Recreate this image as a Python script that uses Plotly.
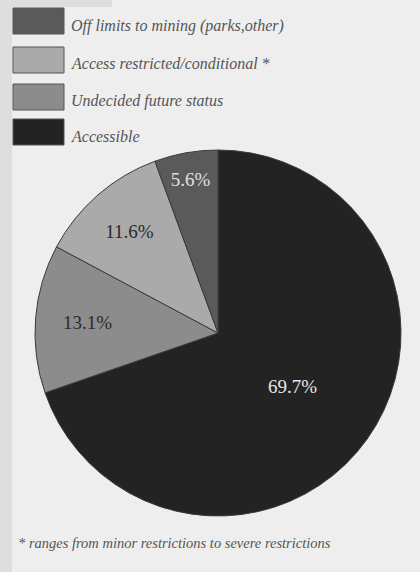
import plotly.graph_objects as go

categories = ["Accessible", "Undecided future status", "Access restricted/conditional *", "Off limits to mining (parks,other)"]
values = [69.7, 13.1, 11.6, 5.6]
labels_text = ["69.7%", "13.1%", "11.6%", "5.6%"]
colors = ["#232323", "#8c8c8c", "#aaaaaa", "#5a5a5a"]
text_colors = ["#e6e6e6", "#2a2a2a", "#2a2a2a", "#e0e0e0"]

legend_order = ["Off limits to mining (parks,other)", "Access restricted/conditional *", "Undecided future status", "Accessible"]
footnote = "* ranges from minor restrictions to severe restrictions"

W, H = 420, 572
SERIF = "Liberation Serif, DejaVu Serif, serif"
fig = go.Figure()
fig.add_trace(go.Pie(
    labels=categories, values=values, text=labels_text,
    textinfo="text", textposition="inside", insidetextorientation="horizontal",
    sort=False, direction="clockwise", rotation=0,
    marker=dict(colors=colors, line=dict(color="#3a3a3a", width=1)),
    textfont=dict(family=SERIF, size=19, color=text_colors),
    domain=dict(x=[35 / W, 401 / W], y=[1 - 516 / H, 1 - 150 / H]),
    showlegend=False, hoverinfo="label+percent",
))

shapes = [dict(type="rect", xref="paper", yref="paper", x0=0, x1=12 / W, y0=0, y1=1,
               fillcolor="#dedede", line=dict(width=0), layer="below"),
          dict(type="rect", xref="paper", yref="paper", x0=0, x1=112 / W, y0=1 - 7 / H, y1=1,
               fillcolor="#dedede", line=dict(width=0), layer="below")]
annotations = []
row_tops = [8, 47, 84, 119]
text_centers = [26, 64, 101, 137]
for i, name in enumerate(legend_order):
    col = colors[categories.index(name)]
    y0 = row_tops[i]
    y1 = y0 + 26
    shapes.append(dict(type="rect", xref="paper", yref="paper",
                       x0=13 / W, x1=64 / W, y0=1 - y1 / H, y1=1 - y0 / H,
                       fillcolor=col, line=dict(color="#555555", width=1)))
    annotations.append(dict(text="<i>" + name + "</i>", xref="paper", yref="paper",
                            x=69 / W, y=1 - text_centers[i] / H, xanchor="left", yanchor="middle",
                            showarrow=False,
                            font=dict(family=SERIF, size=16, color="#555555")))
annotations.append(dict(text="<i>" + footnote + "</i>", xref="paper", yref="paper",
                        x=16 / W, y=1 - 543 / H, xanchor="left", yanchor="middle", showarrow=False,
                        font=dict(family=SERIF, size=14.5, color="#555555")))

fig.update_layout(width=W, height=H, margin=dict(l=0, r=0, t=0, b=0),
                  paper_bgcolor="#eeeeee", plot_bgcolor="#eeeeee",
                  shapes=shapes, annotations=annotations)
fig.write_html("out.html", config={"displayModeBar": False},
               post_script="document.body.style.margin='0';document.body.style.background='#eeeeee';")
